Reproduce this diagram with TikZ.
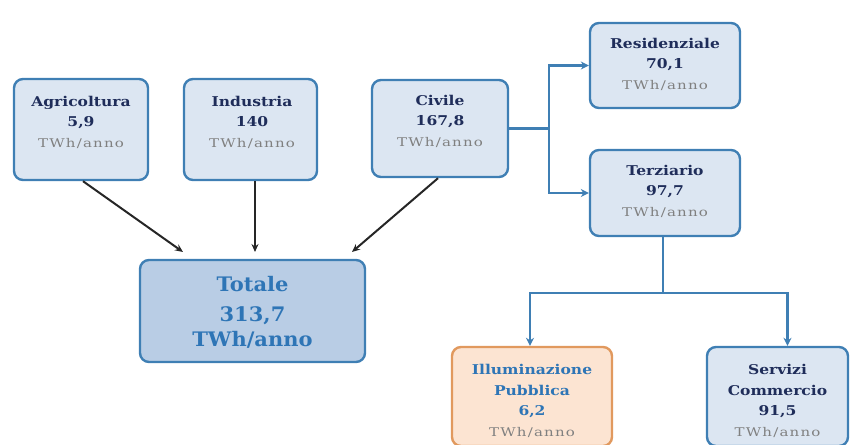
\documentclass[tikz,border=0pt]{standalone}
\usepackage{fontspec}
\setmainfont{DejaVu Serif}
\usetikzlibrary{arrows.meta,calc}
\definecolor{boxfill}{HTML}{DCE6F2}
\definecolor{boxline}{HTML}{3F7FB4}
\definecolor{totfill}{HTML}{B9CDE5}
\definecolor{orfill}{HTML}{FCE4D2}
\definecolor{orline}{HTML}{E1995E}
\definecolor{navy}{HTML}{1F2D5A}
\definecolor{blu}{HTML}{2E75B6}
\definecolor{unit}{HTML}{808080}
\newcommand{\unitxt}{{\color{unit}\mdseries\fontsize{12}{14}\selectfont\addfontfeatures{LetterSpace=10,FakeStretch=1.25}TWh/anno}}
\tikzset{
  x=1pt,y=-1pt,
  panel/.style={draw=boxline,fill=boxfill,line width=2.4pt,rounded corners=9pt,inner sep=0pt},
  txt/.style={align=center,font=\bfseries\fontsize{13.5}{20.5}\selectfont\addfontfeatures{FakeStretch=1.15},text=navy,inner sep=0pt},
  conn/.style={draw=boxline,line width=2.2pt,-{Stealth[length=8pt,width=8pt]}},
  feed/.style={draw=black!85,line width=2pt,-{Stealth[length=8pt,width=7pt]}},
}
\begin{document}
\begin{tikzpicture}
\useasboundingbox (0,0) rectangle (853,444);
\clip (0,0) rectangle (853,444);
% sector boxes
\node[panel,minimum width=134pt,minimum height=101pt] (agr) at (81,129.5) {};
\node[panel,minimum width=133pt,minimum height=101pt] (ind) at (250.5,129.5) {};
\node[panel,minimum width=136pt,minimum height=97pt] (civ) at (440,128.5) {};
\node[panel,minimum width=150pt,minimum height=85pt] (res) at (665,65.5) {};
\node[panel,minimum width=150pt,minimum height=86pt] (ter) at (665,193) {};
\node[panel,fill=totfill,minimum width=225pt,minimum height=102pt] (tot) at (252.5,311) {};
\node[panel,draw=orline,fill=orfill,minimum width=160pt,minimum height=99pt] (ill) at (532,396.5) {};
\node[panel,minimum width=141pt,minimum height=99pt] (ser) at (777.5,396.5) {};
% labels
\node[txt] (agrT) at (81,122) {Agricoltura\\5,9\\\unitxt};
\node[txt] (indT) at (252,122) {Industria\\140\\\unitxt};
\node[txt] (civT) at (440,121) {Civile\\167,8\\\unitxt};
\node[txt] (resT) at (665,64) {Residenziale\\70,1\\\unitxt};
\node[txt] (terT) at (665,191) {Terziario\\97,7\\\unitxt};
\node[txt,text=blu,font=\bfseries\fontsize{20}{30}\selectfont\addfontfeatures{FakeStretch=1.05}] (totT) at (252.5,312) {Totale\\313,7\\[-5pt]TWh/anno};
\node[txt] (illT) at (532,401) {{\color{blu}Illuminazione}\\{\color{blu}Pubblica}\\{\color{blu}6,2}\\\unitxt};
\node[txt] (serT) at (777.5,401) {Servizi\\Commercio\\91,5\\\unitxt};
% flows into the total
\coordinate (inA) at (183,252);
\coordinate (inB) at (255,252);
\coordinate (inC) at (352,252);
\draw[feed] ([xshift=2pt]agr.south) -- (inA);
\draw[feed] ([xshift=4.5pt]ind.south) -- (inB);
\draw[feed] ([xshift=-2pt]civ.south) -- (inC);
% breakdown of the civil sector
\draw[draw=boxline,line width=2.2pt] (civ.east) -- ++(40,0) coordinate (br);
\draw[conn] (br) |- (res.west);
\draw[conn] (br) |- (ter.west);
\draw[draw=boxline,line width=2.2pt] ([xshift=-2pt]ter.south) -- ++(0,56) coordinate (br2);
\draw[conn] (br2) -| ([xshift=-2pt]ill.north);
\draw[conn] (br2) -| ([xshift=10pt]ser.north);
\end{tikzpicture}
\end{document}
